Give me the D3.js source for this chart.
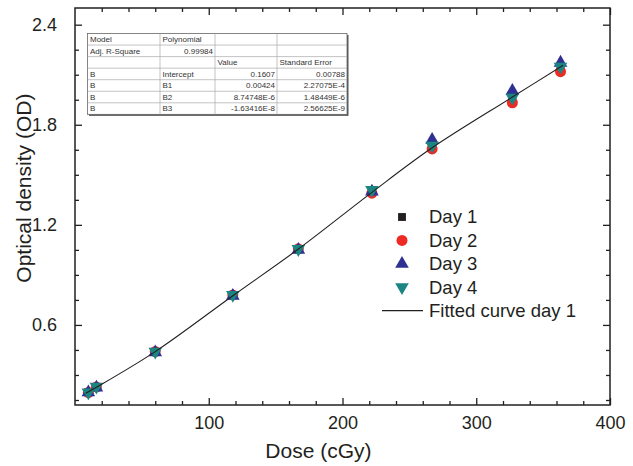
<!DOCTYPE html>
<html>
<head>
<meta charset="utf-8">
<script src="https://cdn.jsdelivr.net/npm/d3@7"></script>
<style>
  body { margin: 0; background: #fff; }
  text { font-family: "Liberation Sans", Arial, sans-serif; }
</style>
</head>
<body>
<svg width="633" height="466"></svg>
<script>

// dose values (cGy)
var doses = [10, 16, 60, 118, 167, 222, 267, 327, 363];

// optical density per day
var day1 = [0.198, 0.226, 0.440, 0.778, 1.054, 1.405, 1.672, 1.960, 2.148];
var day2 = [0.195, 0.228, 0.440, 0.780, 1.056, 1.390, 1.655, 1.932, 2.118];
var day3 = [0.196, 0.224, 0.436, 0.775, 1.050, 1.400, 1.710, 2.004, 2.172];
var day4 = [0.195, 0.230, 0.440, 0.780, 1.055, 1.410, 1.675, 1.962, 2.148];

// fitted curve of day 1
var fitDose = [8, 16, 60, 118, 167, 222, 267, 327, 365];
var fitOD   = [0.190, 0.226, 0.440, 0.775, 1.055, 1.395, 1.662, 1.966, 2.157];

var xTicks = [100, 200, 300, 400];
var yTicks = [0.6, 1.2, 1.8, 2.4];

// fit report table
var tableRows = [
    ["Model", "Polynomial", "", ""],
    ["Adj. R-Square", "0.99984", "", ""],
    ["", "", "Value", "Standard Error"],
    ["B", "Intercept", "0.1607", "0.00788"],
    ["B", "B1", "0.00424", "2.27075E-4"],
    ["B", "B2", "8.74748E-6", "1.48449E-6"],
    ["B", "B3", "-1.63416E-8", "2.56625E-9"]
];

var series = [
    {name: "Day 1", values: day1, color: "#231f20", shape: "square"},
    {name: "Day 2", values: day2, color: "#ee2a24", shape: "circle"},
    {name: "Day 3", values: day3, color: "#2e3192", shape: "up"},
    {name: "Day 4", values: day4, color: "#1b8582", shape: "down"}
];

var svg = d3.select("svg"),
    margin = {top: 8, right: 23, bottom: 61, left: 75},
    width = +svg.attr("width") - margin.left - margin.right,
    height = +svg.attr("height") - margin.top - margin.bottom;

var x = d3.scaleLinear().domain([0, 400]).range([0, width]);
var y = d3.scaleLinear().domain([0.12, 2.5]).range([height, 0]);

var g = svg.append("g")
    .attr("transform", "translate(" + margin.left + "," + margin.top + ")");

var axisColor = "#231f20";

// minor ticks on all four sides
var xMinor = d3.range(20, 400, 20).filter(function(d) { return d % 100 != 0; });
var yMinor = d3.range(0.15, 2.45, 0.15).filter(function(d) { return Math.abs(d / 0.6 - Math.round(d / 0.6)) > 0.01; });

function styleAxis(sel) {
    sel.select(".domain").remove();
    sel.selectAll("line").attr("stroke", axisColor).attr("stroke-width", 1.3);
    sel.selectAll("text").attr("fill", "#231f20").style("font-size", "18px");
}

g.append("g").attr("transform", "translate(0," + height + ")")
    .call(d3.axisBottom(x).tickValues(xTicks).tickSize(-7).tickPadding(11).tickFormat(d3.format("d")))
    .call(styleAxis);
g.append("g").attr("transform", "translate(0," + height + ")")
    .call(d3.axisBottom(x).tickValues(xMinor).tickSize(-4).tickFormat(""))
    .call(styleAxis);
g.append("g")
    .call(d3.axisTop(x).tickValues(xTicks).tickSize(-7).tickFormat(""))
    .call(styleAxis);
g.append("g")
    .call(d3.axisTop(x).tickValues(xMinor).tickSize(-4).tickFormat(""))
    .call(styleAxis);

g.append("g")
    .call(d3.axisLeft(y).tickValues(yTicks).tickSize(-7).tickPadding(18).tickFormat(d3.format(".1f")))
    .call(styleAxis);
g.append("g")
    .call(d3.axisLeft(y).tickValues(yMinor).tickSize(-4).tickFormat(""))
    .call(styleAxis);
g.append("g").attr("transform", "translate(" + width + ",0)")
    .call(d3.axisRight(y).tickValues(yTicks).tickSize(-7).tickFormat(""))
    .call(styleAxis);
g.append("g").attr("transform", "translate(" + width + ",0)")
    .call(d3.axisRight(y).tickValues(yMinor).tickSize(-4).tickFormat(""))
    .call(styleAxis);

// frame
g.append("rect")
    .attr("width", width).attr("height", height)
    .attr("fill", "none").attr("stroke", axisColor).attr("stroke-width", 1.5);

// axis titles
svg.append("text")
    .attr("text-anchor", "middle")
    .attr("x", margin.left + x(182)).attr("y", 458)
    .style("font-size", "21px").attr("fill", "#231f20")
    .text("Dose (cGy)");

svg.append("text")
    .attr("text-anchor", "middle")
    .attr("transform", "translate(31," + (margin.top + y(1.42)) + ") rotate(-90)")
    .style("font-size", "21px").attr("fill", "#231f20")
    .text("Optical density (OD)");

// markers
function symbolFor(shape) {
    if (shape == "square") return d3.symbol().type(d3.symbolSquare).size(62);
    if (shape == "circle") return d3.symbol().type(d3.symbolCircle).size(95);
    return d3.symbol().type(d3.symbolTriangle).size(80);
}

series.forEach(function(s) {
    g.selectAll(".pt-" + s.shape)
        .data(s.values.map(function(v, i) { return {dose: doses[i], od: v}; }))
        .enter()
        .append("path")
        .attr("d", symbolFor(s.shape)())
        .attr("transform", function(d) {
            return "translate(" + x(d.dose) + "," + y(d.od) + ")" + (s.shape == "down" ? " rotate(180)" : "");
        })
        .attr("fill", s.color);
});

// fitted curve
var fitData = fitDose.map(function(d, i) { return {dose: d, od: fitOD[i]}; });
g.append("path")
    .datum(fitData)
    .attr("fill", "none")
    .attr("stroke", "#231f20")
    .attr("stroke-width", 1.1)
    .attr("d", d3.line().curve(d3.curveCatmullRom)
        .x(function(d) { return x(d.dose); })
        .y(function(d) { return y(d.od); }));

// legend
var legend = svg.append("g").attr("transform", "translate(402,217)");
var rowH = 23.4;
series.forEach(function(s, i) {
    legend.append("path")
        .attr("d", symbolFor(s.shape)())
        .attr("transform", "translate(0," + (i * rowH) + ")" + (s.shape == "down" ? " rotate(180)" : ""))
        .attr("fill", s.color);
    legend.append("text")
        .attr("x", 27).attr("y", i * rowH)
        .attr("dy", "0.35em")
        .style("font-size", "18.5px").attr("fill", "#231f20")
        .text(s.name);
});
legend.append("line")
    .attr("x1", -20).attr("x2", 21)
    .attr("y1", 4 * rowH).attr("y2", 4 * rowH)
    .attr("stroke", "#231f20").attr("stroke-width", 1.1);
legend.append("text")
    .attr("x", 27).attr("y", 4 * rowH)
    .attr("dy", "0.35em")
    .style("font-size", "18.5px").attr("fill", "#231f20")
    .text("Fitted curve day 1");

// inset table
var colX = [87.5, 160, 215, 277, 347];
var tTop = 33.5, tRowH = 11.55;
var table = svg.append("g");
table.append("rect")
    .attr("x", colX[0] + 1.5).attr("y", tTop + 1.5)
    .attr("width", colX[4] - colX[0]).attr("height", tRowH * tableRows.length)
    .attr("fill", "#555");
table.append("rect")
    .attr("x", colX[0]).attr("y", tTop)
    .attr("width", colX[4] - colX[0]).attr("height", tRowH * tableRows.length)
    .attr("fill", "#fff").attr("stroke", "#666").attr("stroke-width", 0.8);

tableRows.forEach(function(row, r) {
    if (r > 0) {
        table.append("line")
            .attr("x1", colX[0]).attr("x2", colX[4])
            .attr("y1", tTop + r * tRowH).attr("y2", tTop + r * tRowH)
            .attr("stroke", "#aaa").attr("stroke-width", 0.7);
    }
    row.forEach(function(cell, c) {
        var rightAlign = (r == 1 && c == 1) || (r >= 3 && c >= 2);
        table.append("text")
            .attr("x", rightAlign ? colX[c + 1] - 2 : colX[c] + 2.5)
            .attr("y", tTop + r * tRowH + tRowH / 2)
            .attr("dy", "0.35em")
            .attr("text-anchor", rightAlign ? "end" : "start")
            .style("font-size", "8px").attr("fill", "#333")
            .text(cell);
    });
});
[1, 2, 3].forEach(function(c) {
    table.append("line")
        .attr("x1", colX[c]).attr("x2", colX[c])
        .attr("y1", tTop).attr("y2", tTop + tRowH * tableRows.length)
        .attr("stroke", "#aaa").attr("stroke-width", 0.7);
});

</script>
</body>
</html>
